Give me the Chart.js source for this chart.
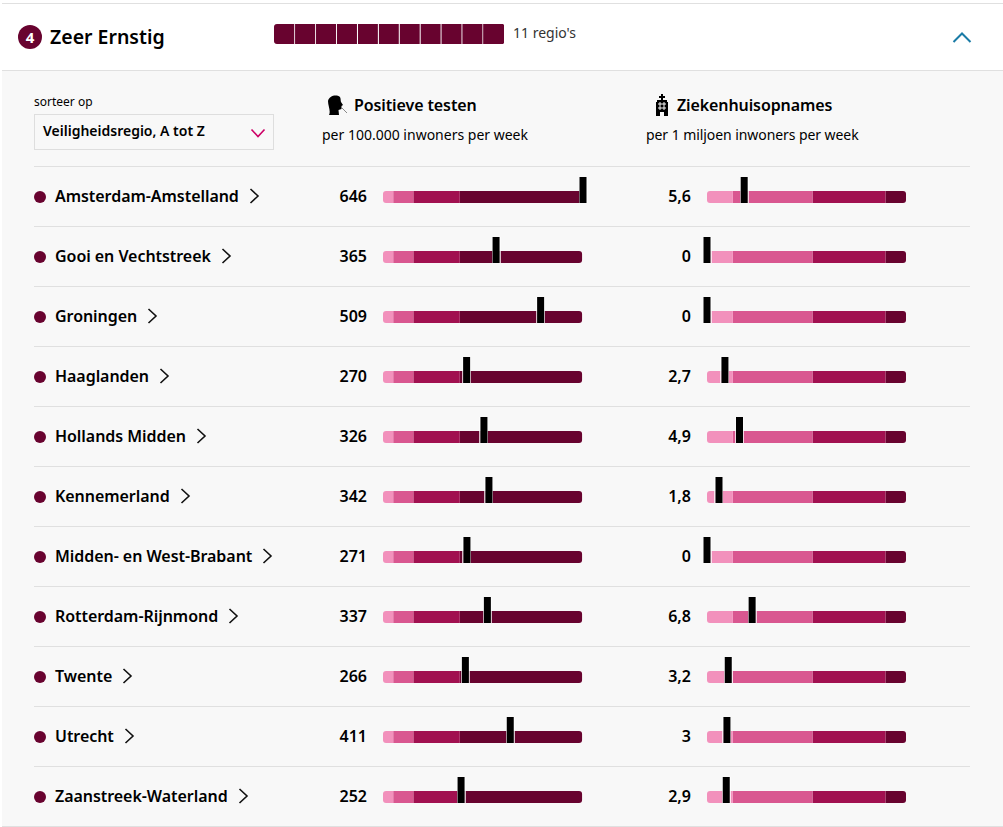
<!DOCTYPE html>
<html lang="nl">
<head>
<meta charset="utf-8">
<title>Zeer Ernstig</title>
<script src="https://cdn.jsdelivr.net/npm/chart.js@4"></script>
<style>
  html, body { margin: 0; padding: 0; background: #fff; }
  body { width: 1003px; height: 827px; position: relative; overflow: hidden; font-family: "Noto Sans", sans-serif; color: #000; }
  .abs { position: absolute; white-space: nowrap; }
  .panel { left: 2px; top: 71px; width: 1001px; height: 755px; background: #f8f8f8; }
  .rule { height: 1px; background: #e0e0e0; }
  .b { font-weight: 600; }
  .name { left: 55px; font-size: 16px; line-height: 22px; font-weight: 600; display: flex; align-items: center; letter-spacing: -0.05px; }
  .name svg { margin-left: 10px; }
  .val { width: 60px; text-align: right; font-size: 16px; line-height: 22px; font-weight: 600; }
  .dot { left: 34px; width: 12px; height: 12px; border-radius: 50%; background: #68032f; }
  canvas { position: absolute; }
</style>
</head>
<body>
<div class="abs rule" style="left:2px;top:3px;width:1001px"></div>
<div class="abs rule" style="left:2px;top:70px;width:1001px"></div>
<div class="abs panel"></div>
<div class="abs rule" style="left:2px;top:826px;width:1001px"></div>

<div class="abs" style="left:18px;top:25px;width:24px;height:24px;border-radius:50%;background:#68032f;color:#fff;font-size:15px;font-weight:700;line-height:24px;text-align:center">4</div>
<div class="abs b" style="left:50px;top:22px;font-size:19.5px;line-height:30px">Zeer Ernstig</div>
<div class="abs" style="left:513px;top:23px;font-size:14px;line-height:20px;color:#333">11 regio's</div>
<svg class="abs" style="left:952px;top:30px" width="20" height="14"><path d="M1.5 12 L10 3.5 L18.5 12" fill="none" stroke="#1a7ba6" stroke-width="2"/></svg>

<div class="abs" style="left:34px;top:93px;font-size:12px;line-height:18px">sorteer op</div>
<div class="abs" style="left:34px;top:114px;width:238px;height:34px;border:1px solid #dedede"></div>
<div class="abs b" style="left:43px;top:121px;font-size:14px;line-height:20px">Veiligheidsregio, A tot Z</div>
<svg class="abs" style="left:250px;top:128px" width="16" height="11"><path d="M1.5 1.5 L8 8.5 L14.5 1.5" fill="none" stroke="#cc0066" stroke-width="1.6"/></svg>

<svg class="abs" style="left:326px;top:95px" width="22" height="21" viewBox="0 0 22 21"><path d="M2 6 C3 1 10 -1 14 2 C15 4 14.5 6 15 7 L17 10 L15.5 11 L15.5 14 L12.5 15 L13 20 L3 20 C5 16 2 11 2 6 Z" fill="#000"/><path d="M16 13 L21 18" stroke="#888" stroke-width="1"/></svg>
<div class="abs b" style="left:354px;top:94px;font-size:16px;line-height:22px;letter-spacing:-0.1px">Positieve testen</div>
<div class="abs" style="left:322px;top:125px;font-size:14px;line-height:20px">per 100.000 inwoners per week</div>

<svg class="abs" style="left:655px;top:94px" width="14" height="22" viewBox="0 0 14 22"><path d="M6 0 H8 V2 H10 V4 H8 V6 H12 V8 H13 V22 H9 V18 H5 V22 H1 V8 H2 V6 H6 V4 H4 V2 H6 Z" fill="#000"/><path d="M3 10 H11 M3 14 H11 M5 8 V16 M9 8 V16" stroke="#f8f8f8" stroke-width="1"/></svg>
<div class="abs b" style="left:677px;top:94px;font-size:16px;line-height:22px;letter-spacing:-0.1px">Ziekenhuisopnames</div>
<div class="abs" style="left:646px;top:125px;font-size:14px;line-height:20px;letter-spacing:-0.07px">per 1 miljoen inwoners per week</div>

<canvas id="regioCount" width="230" height="20" style="left:274px;top:24px"></canvas>
<canvas id="testsChart" width="220" height="660" style="left:373px;top:167px"></canvas>
<canvas id="hospChart" width="219" height="660" style="left:697px;top:167px"></canvas>

<script>
const regions = ['Amsterdam-Amstelland', 'Gooi en Vechtstreek', 'Groningen', 'Haaglanden', 'Hollands Midden', 'Kennemerland', 'Midden- en West-Brabant', 'Rotterdam-Rijnmond', 'Twente', 'Utrecht', 'Zaanstreek-Waterland'];
const testsValues = [646, 365, 509, 270, 326, 342, 271, 337, 266, 411, 252];
const hospValues = [5.6, 0, 0, 2.7, 4.9, 1.8, 0, 6.8, 3.2, 3, 2.9];
const testsBands = [33, 65, 150, 395];
const hospBands = [3.9, 12, 11, 3.1];
const bandColors = ['#f291bc', '#d95790', '#a11050', '#68032f'];
const darkest = '#68032f';

// rows around the charts
const rowTop = 167;
const rowHeight = 60;
regions.forEach(function (name, i) {
    const y = rowTop + i * rowHeight;
    const html =
        '<div class="abs rule" style="left:34px;top:' + (y - 1) + 'px;width:936px"></div>' +
        '<div class="abs dot" style="top:' + (y + 24) + 'px"></div>' +
        '<div class="abs name" style="top:' + (y + 18) + 'px">' + name +
        '<svg width="11" height="16"><path d="M1.5 1 L9 8 L1.5 15" fill="none" stroke="#111" stroke-width="1.6"/></svg></div>' +
        '<div class="abs val" style="left:307px;top:' + (y + 18) + 'px">' + testsValues[i] + '</div>' +
        '<div class="abs val" style="left:631px;top:' + (y + 18) + 'px">' + String(hospValues[i]).replace('.', ',') + '</div>';
    document.body.insertAdjacentHTML('beforeend', html);
});

// black tick with a thin light edge, sits above the centre of the row
function makeMarker() {
    const c = document.createElement('canvas');
    c.width = 9;
    c.height = 40;
    const ctx = c.getContext('2d');
    ctx.fillStyle = 'rgba(255,255,255,0.75)';
    ctx.fillRect(0, 0, 9, 26);
    ctx.fillStyle = '#000';
    ctx.fillRect(1, 0, 7, 26);
    return c;
}
const marker = makeMarker();

function bandChart(id, bands, values, max) {
    const datasets = bands.map(function (band, i) {
        let radius = 0;
        if (i === 0) radius = { topLeft: 3, bottomLeft: 3 };
        if (i === bands.length - 1) radius = { topRight: 3, bottomRight: 3 };
        return {
            data: regions.map(function () { return band; }),
            backgroundColor: bandColors[i],
            barThickness: 12,
            borderRadius: radius,
            borderSkipped: false,
            inflateAmount: 0,
            order: 1,
        };
    });
    datasets.push({
        type: 'line',
        data: values,
        showLine: false,
        pointStyle: marker,
        pointRadius: 10,
        pointHoverRadius: 10,
        clip: false,
        order: -1,
    });
    return new Chart(document.getElementById(id), {
        type: 'bar',
        data: { labels: regions, datasets: datasets },
        options: {
            indexAxis: 'y',
            responsive: false,
            animation: false,
            layout: { autoPadding: false, padding: { left: 10, right: 10 } },
            plugins: { legend: { display: false }, tooltip: { enabled: false } },
            scales: {
                x: { display: false, stacked: true, min: 0, max: max },
                y: { display: false, stacked: true },
            },
        },
    });
}

bandChart('testsChart', testsBands, testsValues, 646);
bandChart('hospChart', hospBands, hospValues, 30);

// the row of squares in the header, one per region
new Chart(document.getElementById('regioCount'), {
    type: 'bar',
    data: {
        labels: ['regio'],
        datasets: regions.map(function (name, i) {
            let radius = 0;
            if (i === 0) radius = { topLeft: 3, bottomLeft: 3 };
            if (i === regions.length - 1) radius = { topRight: 3, bottomRight: 3 };
            return {
                label: name,
                data: [1],
                backgroundColor: darkest,
                borderColor: '#fff',
                borderWidth: i < regions.length - 1 ? { right: 1 } : 0,
                borderRadius: radius,
                borderSkipped: false,
                barPercentage: 1,
                categoryPercentage: 1,
            };
        }),
    },
    options: {
        indexAxis: 'y',
        responsive: false,
        animation: false,
        plugins: { legend: { display: false }, tooltip: { enabled: false } },
        scales: {
            x: { display: false, stacked: true, min: 0, max: regions.length },
            y: { display: false, stacked: true },
        },
    },
});
</script>
</body>
</html>
